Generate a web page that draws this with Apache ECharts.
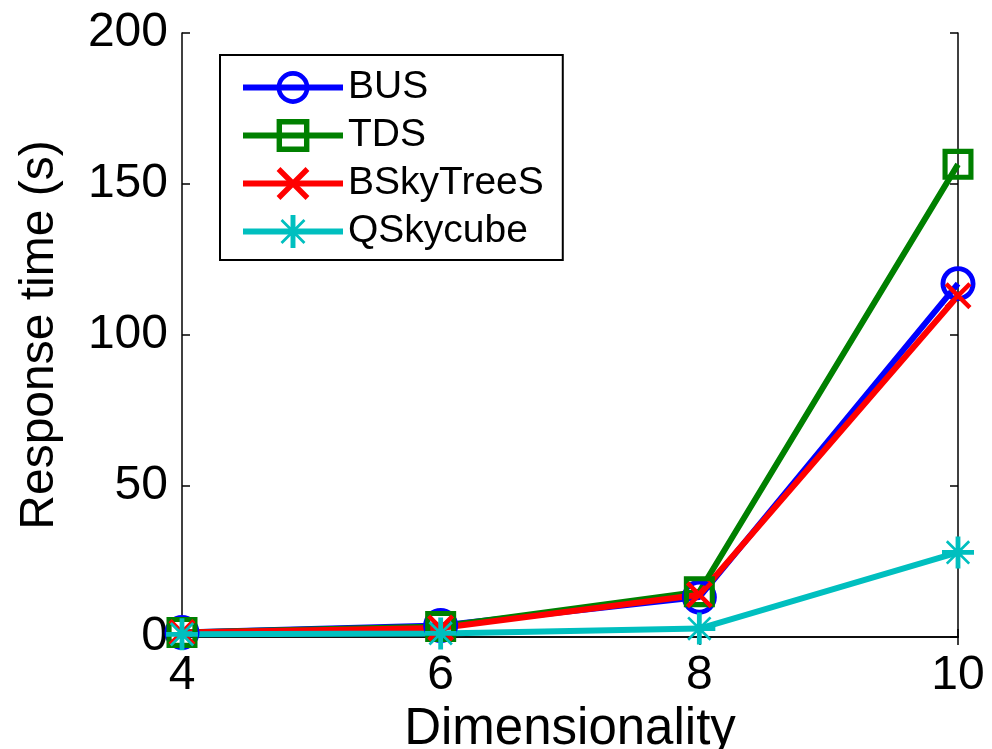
<!DOCTYPE html>
<html>
<head>
<meta charset="utf-8">
<script src="https://cdn.jsdelivr.net/npm/echarts@6/dist/echarts.min.js"></script>
<style>
  html, body { margin: 0; padding: 0; background: #fff; }
  #main { width: 992px; height: 749px; }
</style>
</head>
<body>
<div id="main"></div>
<script>
var dims = [4, 6, 8, 10];
var busValues = [1.5, 3.8, 13.2, 117];
var tdsValues = [1.5, 3.5, 15.0, 156.5];
var bskyValues = [1.5, 3.0, 14.0, 113];
var qskyValues = [0.9, 1.2, 2.8, 28];
var seriesNames = ['BUS', 'TDS', 'BSkyTreeS', 'QSkycube'];

function pairs(vals) {
    return dims.map(function (d, i) { return [d, vals[i]]; });
}

// marker outlines drawn as filled rings so the stroke stays thick
var ringPath = 'path://M10,0A10,10 0 1,1 10,20A10,10 0 1,1 10,0Z' +
               'M10,2.8A7.2,7.2 0 1,0 10,17.2A7.2,7.2 0 1,0 10,2.8Z';
var boxPath = 'path://M0,0L20,0L20,20L0,20Z M3.3,3.3L3.3,16.7L16.7,16.7L16.7,3.3Z';
var crossPath = 'path://M0.94,3.06L3.06,0.94L19.06,16.94L16.94,19.06Z' +
                'M16.94,0.94L19.06,3.06L3.06,19.06L0.94,16.94Z';
var starPath = 'path://M8.5,0L11.5,0L11.5,20L8.5,20Z' +
               'M0,8.5L20,8.5L20,11.5L0,11.5Z' +
               'M2.4,3.6L3.6,2.4L17.6,16.4L16.4,17.6Z' +
               'M16.4,2.4L17.6,3.6L3.6,17.6L2.4,16.4Z';

var fontName = 'Liberation Sans, Arial, sans-serif';
var axisLine = { show: true, lineStyle: { color: '#000', width: 1.5 } };
var tick = { inside: true, length: 8, lineStyle: { color: '#000', width: 1.5 } };

var myChart = echarts.init(document.getElementById('main'));
var option = {
    animation: false,
    backgroundColor: '#fff',
    grid: { left: 182, right: 34, top: 33, bottom: 112, containLabel: false, outerBoundsMode: 'none' },
    legend: {
        left: 220,
        top: 55,
        orient: 'vertical',
        padding: [13, 19, 9, 20],
        itemWidth: 100,
        itemHeight: 41,
        itemGap: 9,
        itemTextGap: 10,
        borderColor: '#000',
        borderWidth: 2,
        selectedMode: false,
        lineStyle: { width: 6 },
        textStyle: { fontSize: 39, color: '#000', fontFamily: fontName },
        data: seriesNames
    },
    xAxis: [{
        type: 'value',
        min: 4, max: 10, interval: 2,
        name: 'Dimensionality',
        nameLocation: 'middle',
        nameGap: 60,
        nameTextStyle: { fontSize: 51, color: '#000', fontFamily: fontName },
        axisLine: axisLine,
        axisTick: tick,
        axisLabel: { fontSize: 48, color: '#000', margin: 15, fontFamily: fontName },
        splitLine: { show: false }
    }, {
        type: 'value',
        position: 'top',
        min: 4, max: 10, interval: 2,
        axisLine: axisLine,
        axisTick: tick,
        axisLabel: { show: false },
        splitLine: { show: false }
    }],
    yAxis: [{
        type: 'value',
        min: 0, max: 200, interval: 50,
        name: 'Response time (s)',
        nameLocation: 'middle',
        nameGap: 118,
        nameTextStyle: { fontSize: 48, color: '#000', fontFamily: fontName },
        axisLine: axisLine,
        axisTick: tick,
        axisLabel: { fontSize: 48, color: '#000', margin: 14, fontFamily: fontName },
        splitLine: { show: false }
    }, {
        type: 'value',
        position: 'right',
        min: 0, max: 200, interval: 50,
        axisLine: axisLine,
        axisTick: tick,
        axisLabel: { show: false },
        splitLine: { show: false }
    }],
    series: [
        {
            name: 'BUS', type: 'line', data: pairs(busValues),
            symbol: ringPath, symbolSize: 35,
            lineStyle: { width: 6, color: '#0000ff' },
            itemStyle: { color: '#0000ff' }
        },
        {
            name: 'TDS', type: 'line', data: pairs(tdsValues),
            symbol: boxPath, symbolSize: 31,
            lineStyle: { width: 6, color: '#008000' },
            itemStyle: { color: '#008000' }
        },
        {
            name: 'BSkyTreeS', type: 'line', data: pairs(bskyValues),
            symbol: crossPath, symbolSize: 27,
            lineStyle: { width: 6, color: '#ff0000' },
            itemStyle: { color: '#ff0000' }
        },
        {
            name: 'QSkycube', type: 'line', data: pairs(qskyValues),
            symbol: starPath, symbolSize: 32,
            lineStyle: { width: 6, color: '#00bfbf' },
            itemStyle: { color: '#00bfbf' }
        }
    ]
};
myChart.setOption(option);
</script>
</body>
</html>
